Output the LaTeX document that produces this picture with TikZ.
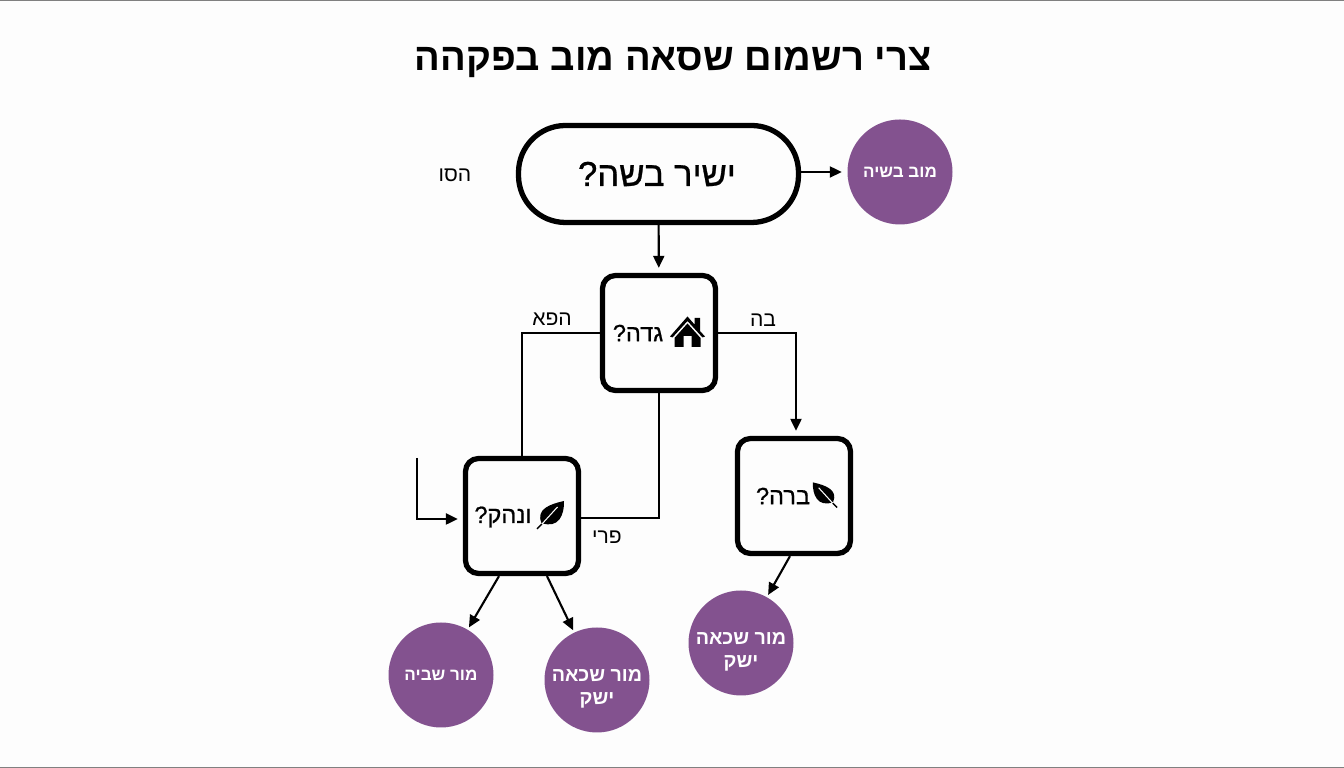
\documentclass[tikz,border=0pt]{standalone}
\usepackage{fontspec}
\setmainfont[Script=Hebrew]{Liberation Sans}
\newfontfamily\medfont[Script=Hebrew,FakeBold=0.8]{Liberation Sans}
\TeXXeTstate=1
\usetikzlibrary{arrows.meta}
\newcommand{\heb}[1]{\beginR #1\endR}
\newcommand{\lowstrut}{\rule{0pt}{8.4pt}}
\definecolor{plum}{HTML}{83528F}
\definecolor{paper}{HTML}{FDFDFD}
\tikzset{
    startbox/.style={draw,line width=1.5pt,rounded corners=0.47cm,minimum width=2.8cm,minimum height=0.97cm},
    qbox/.style={draw,line width=1.5pt,rounded corners=0.13cm,minimum width=1.13cm,minimum height=1.15cm},
    endcircle/.style={circle,fill=plum,text=white,minimum size=1.05cm,inner sep=-2pt,align=center,font=\bfseries\fontsize{4.85}{7}\selectfont},
    askcircle/.style={endcircle,font=\bfseries\fontsize{5.6}{6.5}\selectfont},
    qtext/.style={inner sep=0pt,font=\medfont\fontsize{6.7}{9}\selectfont},
    edgelabel/.style={inner sep=0pt,font=\fontsize{6}{8}\selectfont},
    link/.style={line width=0.6pt},
    arrow/.style={link,-{Triangle[length=0.12cm,width=0.11cm]},shorten >=0.05cm},
    pics/housemark/.style={code={
        \fill (-0.175,-0.045) -- (0,0.155) -- (0.07,0.075) -- (0.07,0.14) -- (0.125,0.14) -- (0.125,0.01) -- (0.175,-0.045) -- (0.15,-0.055) -- (0,0.11) -- (-0.15,-0.055) -- cycle;
        \fill (-0.13,-0.06) -- (0,0.085) -- (0.13,-0.06) -- (0.13,-0.15) -- (0.04,-0.15) -- (0.04,-0.04) -- (-0.04,-0.04) -- (-0.04,-0.15) -- (-0.13,-0.15) -- cycle;
    }},
    pics/leafmark/.style={code={
        \fill (-0.09,-0.08) .. controls (-0.15,0.06) and (0,0.11) .. (0.135,0.14) .. controls (0.14,0) and (0.08,-0.14) .. (-0.09,-0.08) -- cycle;
        \draw[line width=0.4pt] (-0.135,-0.14) -- (-0.085,-0.09);
        \draw[paper,line width=0.3pt] (-0.085,-0.09) -- (0.07,0.08);
    }}
}
\begin{document}
\begin{tikzpicture}
    \fill[paper] (0,0) rectangle (13.44,7.68);
    \useasboundingbox (0,0) rectangle (13.44,7.68);
    \draw[gray,line width=0.4pt] (0,7.675) -- (13.44,7.675);
    \draw[gray,line width=0.4pt] (0,0.005) -- (13.44,0.005);

    \node[inner sep=0pt,font=\bfseries\fontsize{10.85}{14}\selectfont] (title) at (6.73,7.06) {\heb{צרי רשמום שסאה מוב בפקהה}};

    \node[startbox] (start) at (6.585,5.94) {};
    \node[qbox] (yard) at (6.59,4.35) {};
    \node[qbox] (fruit) at (5.22,2.52) {};
    \node[qbox] (wild) at (7.94,2.72) {};

    \node[inner sep=0pt,font=\medfont\fontsize{9.85}{12}\selectfont] (starttext) at (6.57,5.94) {\heb{ישיר בשה?}};
    \node[qtext] (yardtext) at (6.38,4.35) {\heb{גדה?}};
    \node[qtext] (fruittext) at (5.03,2.51) {\heb{ונהק?}};
    \node[qtext] (wildtext) at (7.83,2.72) {\heb{ברה?}};

    \pic at (6.875,4.36) {housemark};
    \pic at (5.505,2.53) {leafmark};
    \pic[xscale=-0.9,yscale=0.9] at (8.25,2.73) {leafmark};

    \node[endcircle] (now) at (9.00,5.96) {\heb{מוב בשיה}};
    \node[endcircle] (buy) at (4.41,0.93) {\heb{מור שביה}};
    \node[askcircle] (ask1) at (5.97,0.88) {\lowstrut\heb{מור שכאה}\\\heb{ישק}};
    \node[askcircle] (ask2) at (7.41,1.25) {\lowstrut\heb{מור שכאה}\\\heb{ישק}};

    \node[edgelabel] (sidelabel) at (4.55,5.93) {\heb{הסו}};
    \node[edgelabel] (leftlabel) at (5.52,4.49) {\heb{הפא}};
    \node[edgelabel] (rightlabel) at (7.63,4.48) {\heb{בה}};
    \node[edgelabel] (fruitlabel) at (6.07,2.31) {\heb{פרי}};

    \coordinate (inlet) at (4.17,3.10);

    \draw[arrow] (start) -- (yard);
    \draw[arrow] (start.east |- now) -- (now);
    \draw[link] (yard.west) -| (fruit.north);
    \draw[link] (yard.south) |- ([yshift=-0.02cm]fruit.east);
    \draw[arrow] (yard.east) -| ([xshift=0.02cm]wild.north);
    \draw[arrow] (inlet) |- ([yshift=-0.03cm]fruit.west);
    \draw[arrow,shorten >=0.02cm] ([xshift=-0.23cm]fruit.south) -- (buy);
    \draw[arrow,shorten >=0.02cm] ([xshift=0.25cm]fruit.south) -- (ask1);
    \draw[arrow,shorten >=0.02cm] ([xshift=-0.04cm]wild.south) -- (ask2);
\end{tikzpicture}
\end{document}
